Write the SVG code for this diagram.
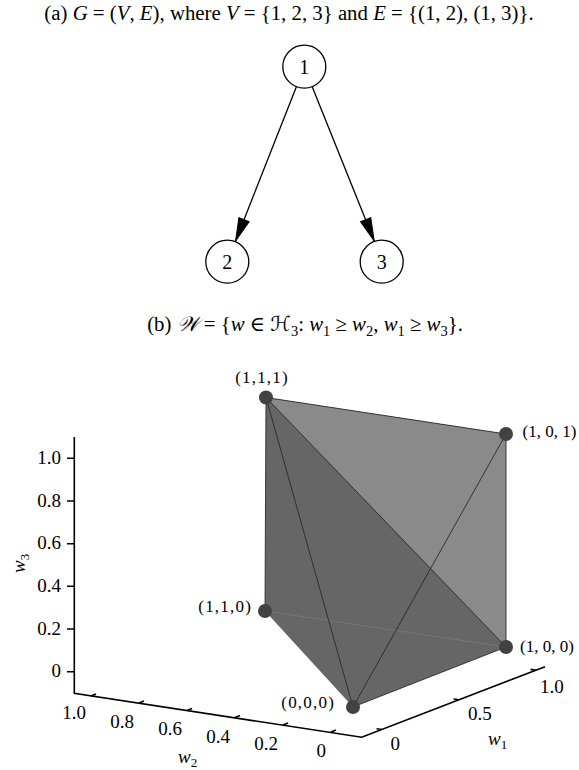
<svg xmlns="http://www.w3.org/2000/svg" width="579" height="770" viewBox="0 0 579 770">
<style>
text{font-family:"Liberation Serif","DejaVu Serif",serif;fill:#000}
.title{font-size:20.8px}
.it{font-style:italic}
.node circle{fill:#fff;stroke:#000;stroke-width:1.3}
.node text{font-size:20px;text-anchor:middle}
.edge{stroke:#000;stroke-width:1.3;fill:none}
.axis{stroke:#000;stroke-width:1.6;fill:none}
.tick{font-size:19px}
.vlab{font-size:17px}
.ns{letter-spacing:1.2px}
.pl{stroke:#2a2a2a;stroke-width:0.9;fill:none}
.dot{fill:#424242}
</style>
<defs>
<marker id="arr" markerUnits="userSpaceOnUse" markerWidth="26" markerHeight="14" viewBox="-24 -7 26 14" refX="0" refY="0" orient="auto">
<path d="M0,0 L-23,-5.5 L-23,5.5 Z" fill="#000" stroke="#000" stroke-width="1"/>
</marker>
</defs>

<text class="title" x="289" y="20" text-anchor="middle">(a) <tspan class="it">G</tspan> = (<tspan class="it">V</tspan>, <tspan class="it">E</tspan>), where <tspan class="it">V</tspan> = {1, 2, 3} and <tspan class="it">E</tspan> = {(1, 2), (1, 3)}.</text>

<g id="connectors">
<line class="edge" x1="296.4" y1="86.7" x2="235.6" y2="241" marker-end="url(#arr)"/>
<line class="edge" x1="312.2" y1="86.7" x2="374.2" y2="241" marker-end="url(#arr)"/>
</g>
<g id="node1" class="node"><circle cx="304.3" cy="66.7" r="21.5"/><text x="304.3" y="73.5">1</text></g>
<g id="node2" class="node"><circle cx="227.3" cy="261.7" r="21.5"/><text x="227.3" y="268.5">2</text></g>
<g id="node3" class="node"><circle cx="381.7" cy="261.7" r="21.5"/><text x="381.7" y="268.5">3</text></g>

<text class="title" x="305" y="331" text-anchor="middle">(b) <tspan font-family="'DejaVu Serif','DejaVu Sans',serif" font-style="italic">𝒲</tspan> = {<tspan class="it">w</tspan> ∈ <tspan font-family="'DejaVu Serif','DejaVu Sans',serif" font-style="italic">ℋ</tspan><tspan font-size="14.5" dy="4.5">3</tspan><tspan dy="-4.5">: </tspan><tspan class="it">w</tspan><tspan font-size="14.5" dy="4.5">1</tspan><tspan dy="-4.5"> ≥ </tspan><tspan class="it">w</tspan><tspan font-size="14.5" dy="4.5">2</tspan><tspan dy="-4.5">, </tspan><tspan class="it">w</tspan><tspan font-size="14.5" dy="4.5">1</tspan><tspan dy="-4.5"> ≥ </tspan><tspan class="it">w</tspan><tspan font-size="14.5" dy="4.5">3</tspan><tspan dy="-4.5">}.</tspan></text>

<g id="axes">
<polyline class="axis" points="74.3,437 74.3,693.3 361.7,737.3 545,666.7"/>
<path class="axis" d="M67,458.3H74.3M67,501H74.3M67,543.7H74.3M67,586.3H74.3M67,629H74.3M67,671.7H74.3"/>
<path class="axis" d="M91,695.9l5,-2M139,703.1l5,-2M187,710.4l5,-2M235,717.6l5,-2M283,724.9l5,-2M331,732.1l5,-2"/>
<path class="axis" d="M382,729.5l-5.5,-0.8M459,699.8l-5.5,-0.8M536,670.2l-5.5,-0.8"/>
<g class="tick" text-anchor="end">
<text x="61" y="464">1.0</text>
<text x="61" y="506.5">0.8</text>
<text x="61" y="549">0.6</text>
<text x="61" y="591.5">0.4</text>
<text x="61" y="634.5">0.2</text>
<text x="61" y="677">0</text>
<text x="86" y="719">1.0</text>
<text x="134" y="727.5">0.8</text>
<text x="182" y="734.5">0.6</text>
<text x="230" y="742.5">0.4</text>
<text x="278" y="750">0.2</text>
<text x="326" y="757">0</text>
</g>
<g class="tick">
<text x="390.5" y="750">0</text>
<text x="468" y="720">0.5</text>
<text x="540" y="693">1.0</text>
</g>
<text class="tick" x="488" y="745"><tspan class="it">w</tspan><tspan font-size="13" dy="4">1</tspan></text>
<text class="tick" x="178" y="763"><tspan class="it">w</tspan><tspan font-size="13" dy="4">2</tspan></text>
<text class="tick" transform="translate(25,573) rotate(-90)"><tspan class="it">w</tspan><tspan font-size="13" dy="4">3</tspan></text>
</g>

<g id="polytope">
<polygon points="266,397.5 506,434 506,647 353,707 265,611" fill="#666666"/>
<polygon points="266,397.5 506,434 506,647" fill="#8a8a8a"/>
<line x1="265" y1="611" x2="506" y2="647" stroke="#7a7a7a" stroke-width="0.8"/>
<line class="pl" x1="266" y1="397.5" x2="506" y2="434"/>
<line class="pl" x1="506" y1="434" x2="506" y2="647" stroke="#444"/>
<line class="pl" x1="266" y1="397.5" x2="265" y2="611" stroke="#555"/>
<line class="pl" x1="266" y1="397.5" x2="506" y2="647"/>
<line class="pl" x1="266" y1="397.5" x2="353" y2="707"/>
<line class="pl" x1="506" y1="434" x2="353" y2="707"/>
<line class="pl" x1="353" y1="707" x2="506" y2="647" stroke="#4a4a4a"/>
</g>
<g id="v111"><circle class="dot" cx="266" cy="397.5" r="7"/><text class="vlab ns" x="262" y="383" text-anchor="middle">(1,1,1)</text></g>
<g id="v101"><circle class="dot" cx="506" cy="434" r="7"/><text class="vlab" x="522.5" y="437">(1, 0, 1)</text></g>
<g id="v110"><circle class="dot" cx="265" cy="611" r="7"/><text class="vlab ns" x="252" y="612" text-anchor="end">(1,1,0)</text></g>
<g id="v100"><circle class="dot" cx="506" cy="647" r="7"/><text class="vlab" x="520" y="652">(1, 0, 0)</text></g>
<g id="v000"><circle class="dot" cx="353" cy="707" r="7"/><text class="vlab ns" x="335" y="708" text-anchor="end">(0,0,0)</text></g>
</svg>
